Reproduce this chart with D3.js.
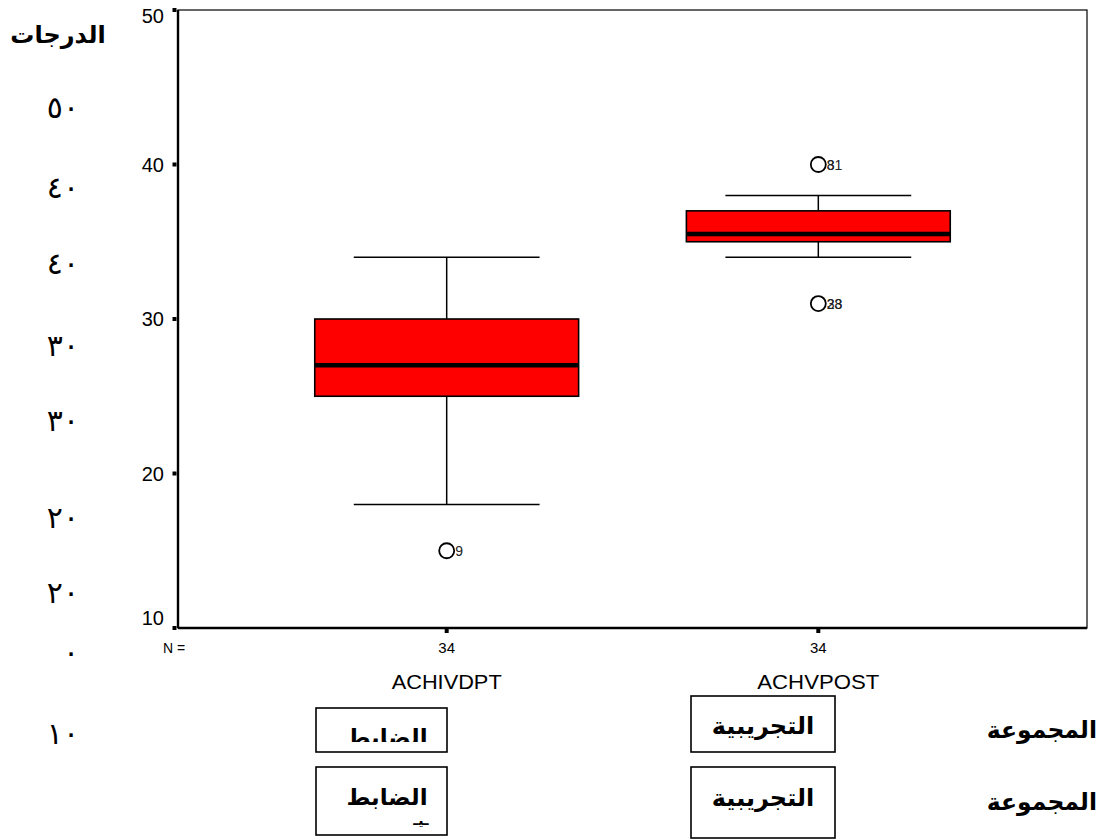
<!DOCTYPE html>
<html>
<head>
<meta charset="utf-8">
<script src="https://cdn.jsdelivr.net/npm/d3@7"></script>
<style>
  html, body { margin: 0; padding: 0; background: #fff; }
  svg { display: block; }
  .lat { font-family: "Liberation Sans", Arial, sans-serif; }
  .ar { font-family: "DejaVu Sans", "Liberation Sans", sans-serif; }
</style>
</head>
<body>
<svg id="chart" width="1102" height="840"></svg>
<script>
// Box-plot summary values per group
const categories = ["ACHIVDPT", "ACHVPOST"];
const counts = [34, 34];
const q1 = [25, 35];
const medians = [27, 35.5];
const q3 = [30, 37];
const whiskerLow = [18, 34];
const whiskerHigh = [34, 38];
// Outliers: group index, value, case labels (coincident cases share a spot)
const outlierGroup = [0, 1, 1];
const outlierValue = [15, 40, 31];
const outlierLabels = [["9"], ["8", "31"], ["28", "33"]];
const yTicks = [10, 20, 30, 40, 50];

// Side annotations (Arabic)
const sideTitle = "الدرجات";
const sideDigits = ["٥٠", "٤٠", "٤٠", "٣٠", "٣٠", "٢٠", "٢٠", "٠", "١٠"];
const groupNames = ["الضابط", "التجريبية"];
const groupHeading = "المجموعة";

const svg = d3.select("#chart");
svg.append("rect").attr("width", 1102).attr("height", 840).attr("fill", "#fff");

const plot = { left: 178, right: 1087, top: 10, bottom: 628 };

const y = d3.scaleLinear().domain([10, 50]).range([plot.bottom, plot.top]);
const x = d3.scalePoint().domain(categories).range([plot.left, plot.right]).padding(0.723);
const step = x.step();
const boxW = step * 0.71;
const capW = step * 0.5;

// Frame: thin top/right, heavier left/bottom
svg.append("rect")
  .attr("x", plot.left).attr("y", plot.top)
  .attr("width", plot.right - plot.left).attr("height", plot.bottom - plot.top)
  .attr("fill", "none").attr("stroke", "#000").attr("stroke-width", 1.2);
svg.append("line").attr("x1", plot.left).attr("x2", plot.left)
  .attr("y1", plot.top).attr("y2", plot.bottom).attr("stroke", "#000").attr("stroke-width", 2.4);
svg.append("line").attr("x1", plot.left).attr("x2", plot.right)
  .attr("y1", plot.bottom).attr("y2", plot.bottom).attr("stroke", "#000").attr("stroke-width", 2.4);

// Y axis ticks (small square marks) and labels
const yAxis = svg.append("g").attr("class", "lat");
yTicks.forEach(t => {
  yAxis.append("rect").attr("x", plot.left - 5.5).attr("y", y(t) - 2)
    .attr("width", 4).attr("height", 4).attr("fill", "#000");
  const ly = Math.min(Math.max(y(t), plot.top + 6), plot.bottom - 10);
  yAxis.append("text").attr("x", plot.left - 14).attr("y", ly)
    .attr("dy", "0.36em").attr("text-anchor", "end")
    .attr("font-size", 20).text(t);
});

// X axis: tick squares, N counts and category names
const xAxis = svg.append("g").attr("class", "lat");
xAxis.append("text").attr("x", plot.left - 15).attr("y", plot.bottom + 20)
  .attr("dy", "0.36em").attr("font-size", 14).text("N =");
const nameLen = [110, 122];
categories.forEach((c, i) => {
  const cx = x(c);
  xAxis.append("rect").attr("x", cx - 2).attr("y", plot.bottom + 1)
    .attr("width", 4).attr("height", 4).attr("fill", "#000");
  xAxis.append("text").attr("x", cx).attr("y", plot.bottom + 20)
    .attr("dy", "0.36em").attr("text-anchor", "middle")
    .attr("font-size", 15).text(counts[i]);
  xAxis.append("text").attr("x", cx).attr("y", plot.bottom + 54)
    .attr("dy", "0.36em").attr("text-anchor", "middle")
    .attr("font-size", 20).attr("textLength", nameLen[i])
    .attr("lengthAdjust", "spacingAndGlyphs").text(c);
});

// Boxes with whiskers
const boxes = svg.append("g");
categories.forEach((c, i) => {
  const cx = x(c);
  const g = boxes.append("g");
  g.append("line").attr("x1", cx).attr("x2", cx)
    .attr("y1", y(whiskerHigh[i])).attr("y2", y(q3[i]))
    .attr("stroke", "#000").attr("stroke-width", 1.5);
  g.append("line").attr("x1", cx).attr("x2", cx)
    .attr("y1", y(q1[i])).attr("y2", y(whiskerLow[i]))
    .attr("stroke", "#000").attr("stroke-width", 1.5);
  [whiskerHigh[i], whiskerLow[i]].forEach(v => {
    g.append("line").attr("x1", cx - capW / 2).attr("x2", cx + capW / 2)
      .attr("y1", y(v)).attr("y2", y(v))
      .attr("stroke", "#000").attr("stroke-width", 1.5);
  });
  g.append("rect").attr("x", cx - boxW / 2).attr("y", y(q3[i]))
    .attr("width", boxW).attr("height", y(q1[i]) - y(q3[i]))
    .attr("fill", "#ff0000").attr("stroke", "#000").attr("stroke-width", 1.6);
  g.append("line").attr("x1", cx - boxW / 2).attr("x2", cx + boxW / 2)
    .attr("y1", y(medians[i])).attr("y2", y(medians[i]))
    .attr("stroke", "#000").attr("stroke-width", 4.5);
});

// Outliers with case labels
const outs = svg.append("g").attr("class", "lat");
outlierValue.forEach((v, k) => {
  const cx = x(categories[outlierGroup[k]]);
  outs.append("circle").attr("cx", cx).attr("cy", y(v)).attr("r", 7.5)
    .attr("fill", "none").attr("stroke", "#000").attr("stroke-width", 1.8);
  outlierLabels[k].forEach(lab => {
    outs.append("text").attr("x", cx + 8.5).attr("y", y(v))
      .attr("dy", "0.36em").attr("font-size", 14).attr("fill", "#222").text(lab);
  });
});

// Arabic side annotations
const ar = svg.append("g").attr("class", "ar");
ar.append("text").attr("x", 58).attr("y", 34).attr("dy", "0.36em")
  .attr("text-anchor", "middle").attr("font-size", 24).attr("font-weight", "bold")
  .attr("direction", "rtl").text(sideTitle);

const digitY = [107, 187, 263, 345, 420, 517, 592, 652, 733];
sideDigits.forEach((d, i) => {
  ar.append("text").attr("x", 79).attr("y", digitY[i]).attr("dy", "0.36em")
    .attr("text-anchor", "end").attr("font-size", 30)
    .attr("letter-spacing", 9).text(d);
});

// Group name boxes
const nameBoxes = [
  { x0: 316, x1: 447, y0: 708, y1: 752, clipBottom: 742 },
  { x0: 316, x1: 447, y0: 767, y1: 835, clipBottom: 835 },
  { x0: 691, x1: 835, y0: 696, y1: 752, clipBottom: 752 },
  { x0: 691, x1: 835, y0: 767, y1: 838, clipBottom: 838 }
];
const defs = svg.append("defs");
nameBoxes.forEach((b, i) => {
  defs.append("clipPath").attr("id", "nb" + i).append("rect")
    .attr("x", b.x0).attr("y", b.y0).attr("width", b.x1 - b.x0).attr("height", b.clipBottom - b.y0);
  ar.append("rect").attr("x", b.x0).attr("y", b.y0)
    .attr("width", b.x1 - b.x0).attr("height", b.y1 - b.y0)
    .attr("fill", "none").attr("stroke", "#000").attr("stroke-width", 1.6);
});
// first box: label sits low and is cut off at the bottom
ar.append("text").attr("clip-path", "url(#nb0)")
  .attr("x", 387).attr("y", 737).attr("dy", "0.36em").attr("text-anchor", "middle")
  .attr("font-size", 23).attr("font-weight", "bold").attr("direction", "rtl").text(groupNames[0]);
ar.append("text").attr("clip-path", "url(#nb1)")
  .attr("x", 387).attr("y", 797).attr("dy", "0.36em").attr("text-anchor", "middle")
  .attr("font-size", 23).attr("font-weight", "bold").attr("direction", "rtl").text(groupNames[0]);
ar.append("text").attr("clip-path", "url(#nb1)")
  .attr("x", 421).attr("y", 820).attr("dy", "0.36em").attr("text-anchor", "middle")
  .attr("font-size", 14).attr("font-weight", "bold").attr("direction", "rtl").text("ـيـ");
ar.append("text").attr("clip-path", "url(#nb2)")
  .attr("x", 763).attr("y", 725).attr("dy", "0.36em").attr("text-anchor", "middle")
  .attr("font-size", 24).attr("font-weight", "bold").attr("direction", "rtl").text(groupNames[1]);
ar.append("text").attr("clip-path", "url(#nb3)")
  .attr("x", 763).attr("y", 797).attr("dy", "0.36em").attr("text-anchor", "middle")
  .attr("font-size", 24).attr("font-weight", "bold").attr("direction", "rtl").text(groupNames[1]);

[730, 802].forEach(yy => {
  ar.append("text").attr("x", 1097).attr("y", yy).attr("dy", "0.36em")
    .attr("text-anchor", "start").attr("direction", "rtl")
    .attr("font-size", 23.5).attr("font-weight", "bold").text(groupHeading);
});
</script>
</body>
</html>
